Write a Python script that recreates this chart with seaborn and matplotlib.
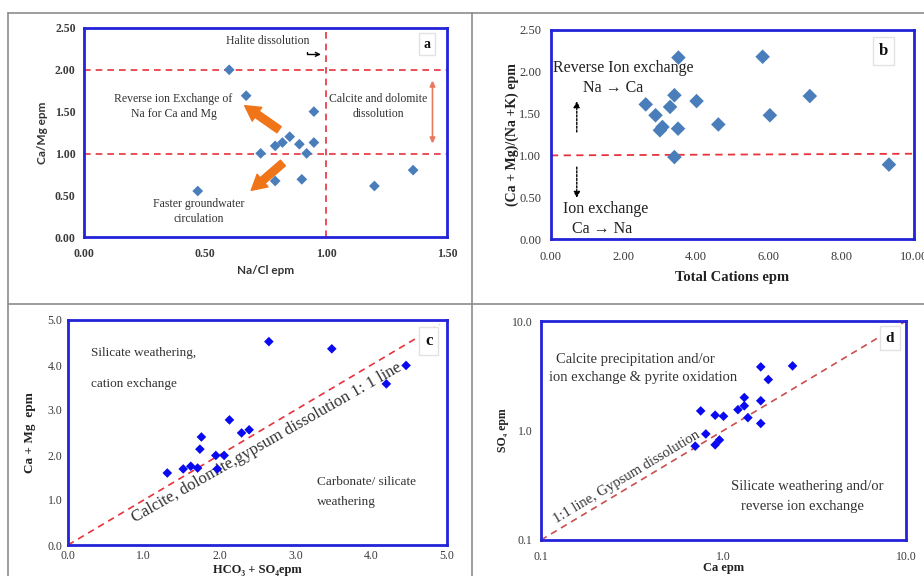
import numpy as np
import pandas as pd
import matplotlib
matplotlib.use("Agg")
import matplotlib.pyplot as plt
from matplotlib.lines import Line2D
import seaborn as sns

# ---------------- data ----------------
# Panel a: Na/Cl vs Ca/Mg
a_na_cl = [0.60, 0.67, 0.95, 0.85, 0.82, 0.79, 0.89, 0.95, 0.73, 0.92, 0.79, 0.90, 0.47, 1.20, 1.36]
a_ca_mg = [2.00, 1.69, 1.50, 1.20, 1.13, 1.09, 1.11, 1.13, 1.00, 1.00, 0.67, 0.69, 0.55, 0.61, 0.80]

# Panel b: Total cations vs (Ca+Mg)/(Na+K)
b_total = [3.51, 5.83, 2.61, 2.88, 3.28, 3.40, 4.01, 3.00, 3.07, 3.50, 4.61, 3.40, 7.13, 6.03, 9.31]
b_ratio = [2.17, 2.18, 1.61, 1.48, 1.58, 1.72, 1.65, 1.30, 1.34, 1.32, 1.37, 0.98, 1.71, 1.48, 0.89]

# Panel c: HCO3+SO4 vs Ca+Mg
c_hco3_so4 = [1.31, 1.52, 1.62, 1.71, 1.74, 1.76, 1.95, 1.97, 2.06, 2.13, 2.29, 2.39, 2.65, 3.48, 4.20, 4.46]
c_ca_mg = [1.60, 1.69, 1.75, 1.71, 2.13, 2.40, 1.99, 1.69, 1.99, 2.78, 2.49, 2.56, 4.52, 4.36, 3.58, 3.99]

# Panel d: Ca vs SO4 (log-log)
d_ca = [0.70, 0.75, 0.80, 0.90, 0.90, 0.95, 1.00, 1.20, 1.30, 1.30, 1.36, 1.60, 1.60, 1.60, 1.76, 2.39]
d_so4 = [0.72, 1.51, 0.93, 0.74, 1.38, 0.82, 1.35, 1.55, 2.00, 1.68, 1.31, 3.81, 1.87, 1.16, 2.92, 3.89]

a_xticks = [0.0, 0.5, 1.0, 1.5]
a_yticks = [0.0, 0.5, 1.0, 1.5, 2.0, 2.5]
b_xticks = [0, 2, 4, 6, 8, 10]
b_yticks = [0.0, 0.5, 1.0, 1.5, 2.0, 2.5]
c_ticks = [0, 1, 2, 3, 4, 5]
d_ticks = [0.1, 1.0, 10.0]

# ---------------- style ----------------
sns.set_style("white")
SERIF = ["Liberation Serif", "DejaVu Serif"]
SANS = ["Lato", "DejaVu Sans"]
plt.rcParams["font.family"] = SERIF

FRAME = "#2323D8"
RED = "#E8323C"
STEEL = "#4A7EBB"
BLUE = "#0A0AF0"
TICKC = "#3A3A3A"

fig = plt.figure(figsize=(9.24, 5.76), dpi=100)

# panel borders (grey grid lines)
for (x0, y0, x1, y1) in [(0.0087, 0.9774, 1.0, 0.9774), (0.0087, 0.0, 0.0087, 0.9774),
                         (0.5108, 0.0, 0.5108, 0.9774), (0.0087, 0.4722, 1.0, 0.4722)]:
    fig.add_artist(Line2D([x0, x1], [y0, y1], transform=fig.transFigure, color="#8C8C8C", lw=1.2))

W, H = 924.0, 576.0


def make_ax(left, right, top, bottom):
    return fig.add_axes([left / W, (H - bottom) / H, (right - left) / W, (bottom - top) / H])


def style_frame(ax):
    for s in ax.spines.values():
        s.set_visible(True)
        s.set_color(FRAME)
        s.set_linewidth(2.0)
    ax.grid(False)


def label_box(ax, txt, x, y, size):
    ax.text(x, y, txt, transform=ax.transAxes, ha="center", va="center", fontsize=size,
            fontweight="bold", family=SERIF, color="#111111",
            bbox=dict(boxstyle="square,pad=0.35", fc="white", ec="#E2E2E2", lw=1.0), zorder=5)


# ================= Panel a =================
axa = make_ax(84, 447, 28, 237)
dfa = pd.DataFrame({"x": a_na_cl, "y": a_ca_mg})
sns.scatterplot(data=dfa, x="x", y="y", ax=axa, marker="D", s=30, color=STEEL,
                edgecolor="none", zorder=4)
axa.set_xlim(0, 1.5)
axa.set_ylim(0, 2.5)
axa.set_xticks(a_xticks)
axa.set_yticks(a_yticks)
axa.set_xticklabels([f"{v:.2f}" for v in a_xticks])
axa.set_yticklabels([f"{v:.2f}" for v in a_yticks])
axa.tick_params(length=0, labelsize=8.5, colors=TICKC, pad=6)
axa.tick_params(axis="x", pad=8)
for t in axa.get_xticklabels() + axa.get_yticklabels():
    t.set_fontweight("bold")
axa.set_xlabel("Na/Cl epm", family=SANS, fontweight="bold", fontsize=8.5, color="#333333")
axa.set_ylabel("Ca/Mg epm", family=SANS, fontweight="bold", fontsize=8.5, color="#333333")
axa.xaxis.set_label_coords(0.5, -0.158)
axa.xaxis.label.set_verticalalignment("center")
axa.yaxis.set_label_coords((42 - 84) / 363, 0.5)
axa.yaxis.label.set_verticalalignment("center")
style_frame(axa)
axa.axhline(2.0, color=RED, ls=(0, (4, 3)), lw=1.2, zorder=2)
axa.axhline(0.99, color=RED, ls=(0, (4, 3)), lw=1.2, zorder=2)
axa.axvline(1.0, color=RED, ls=(0, (4, 3)), lw=1.2, zorder=2)
TXT = "#333333"
axa.text(0.76, 2.35, "Halite dissolution", ha="center", va="center", fontsize=8.5, color=TXT)
axa.annotate("", xy=(0.99, 2.185), xytext=(0.922, 2.25),
             arrowprops=dict(arrowstyle="->", color="black", lw=1.0,
                             connectionstyle="angle,angleA=90,angleB=0,rad=0", mutation_scale=7))
axa.text(0.37, 1.56, "Reverse ion Exchange of\nNa for Ca and Mg", ha="center", va="center",
         fontsize=8.5, color=TXT, linespacing=1.35)
axa.text(0.475, 0.30, "Faster groundwater\ncirculation", ha="center", va="center",
         fontsize=8.5, color=TXT, linespacing=1.35)
axa.text(1.215, 1.56, "Calcite and dolomite\ndissolution", ha="center", va="center",
         fontsize=8.5, color=TXT, linespacing=1.35)
ORANGE = "#F07418"
for tail, tip in [((0.806, 1.284), (0.664, 1.571)), ((0.822, 0.885), (0.691, 0.558))]:
    axa.annotate("", xy=tip, xytext=tail,
                 arrowprops=dict(arrowstyle="simple,head_width=1.0,head_length=0.9,tail_width=0.45",
                                 color=ORANGE, mutation_scale=12, shrinkA=0, shrinkB=0))
axa.annotate("", xy=(1.44, 1.87), xytext=(1.44, 1.12),
             arrowprops=dict(arrowstyle="<|-|>", color="#E8785E", lw=1.2, mutation_scale=8,
                             shrinkA=0, shrinkB=0))
label_box(axa, "a", 0.945, 0.923, 10)

# ================= Panel b =================
axb = make_ax(551, 914, 30, 239)
dfb = pd.DataFrame({"x": b_total, "y": b_ratio})
sns.scatterplot(data=dfb, x="x", y="y", ax=axb, marker="D", s=55, color=STEEL,
                edgecolor="none", zorder=4)
axb.set_xlim(0, 10)
axb.set_ylim(0, 2.5)
axb.set_xticks(b_xticks)
axb.set_yticks(b_yticks)
axb.set_xticklabels([f"{v:.2f}" for v in b_xticks])
axb.set_yticklabels([f"{v:.2f}" for v in b_yticks])
axb.tick_params(length=0, labelsize=9, colors=TICKC, pad=7)
axb.tick_params(axis="x", pad=9)
axb.set_xlabel("Total Cations epm", fontweight="bold", fontsize=10.5, color="#222222")
axb.set_ylabel("(Ca + Mg)/(Na +K) epm", fontweight="bold", fontsize=10, color="#222222")
axb.xaxis.set_label_coords(0.5, (239 - 277) / 209)
axb.xaxis.label.set_verticalalignment("center")
axb.yaxis.set_label_coords((512 - 551) / 363, 0.5)
axb.yaxis.label.set_verticalalignment("center")
style_frame(axb)
axb.plot([0, 10], [1.0, 1.02], color=RED, ls=(0, (4, 3)), lw=1.3, zorder=2)
axb.text(2.0, 2.05, "Reverse Ion exchange", ha="center", va="center", fontsize=11.5, color="#222222")
axb.text(1.72, 1.81, "Na \u2192 Ca", ha="center", va="center", fontsize=11.5, color="#222222")
axb.text(1.5, 0.36, "Ion exchange", ha="center", va="center", fontsize=11.5, color="#222222")
axb.text(1.42, 0.12, "Ca \u2192 Na", ha="center", va="center", fontsize=11.5, color="#222222")
axb.annotate("", xy=(0.71, 1.65), xytext=(0.71, 1.28),
             arrowprops=dict(arrowstyle="-|>", color="black", lw=1.0, ls=(0, (1.5, 1.2)),
                             mutation_scale=9, shrinkA=0, shrinkB=0))
axb.annotate("", xy=(0.71, 0.49), xytext=(0.71, 0.86),
             arrowprops=dict(arrowstyle="-|>", color="black", lw=1.0, ls=(0, (1.5, 1.2)),
                             mutation_scale=9, shrinkA=0, shrinkB=0))
label_box(axb, "b", 0.917, 0.90, 12)

# ================= Panel c =================
axc = make_ax(68, 447, 320, 545)
dfc = pd.DataFrame({"x": c_hco3_so4, "y": c_ca_mg})
sns.scatterplot(data=dfc, x="x", y="y", ax=axc, marker="D", s=24, color=BLUE,
                edgecolor="none", zorder=4)
axc.set_xlim(0, 5)
axc.set_ylim(0, 5)
axc.set_xticks(c_ticks)
axc.set_yticks(c_ticks)
axc.set_xticklabels([f"{v:.1f}" for v in c_ticks])
axc.set_yticklabels([f"{v:.1f}" for v in c_ticks])
axc.tick_params(length=0, labelsize=8.5, colors=TICKC, pad=4)
axc.tick_params(axis="x", pad=3.5)
axc.set_xlabel("HCO\u2083 + SO\u2084epm", fontweight="bold", fontsize=9, color="#222222")
axc.set_ylabel("Ca + Mg  epm", fontweight="bold", fontsize=9.5, color="#222222")
axc.xaxis.set_label_coords(0.5, (545 - 570) / 225)
axc.xaxis.label.set_verticalalignment("center")
axc.yaxis.set_label_coords((30 - 68) / 379, 0.5)
axc.yaxis.label.set_verticalalignment("center")
style_frame(axc)
axc.plot([0, 4.9], [0, 4.9], color=RED, ls=(0, (4, 3)), lw=1.2, zorder=2)
p0 = axc.transData.transform((0, 0))
p1 = axc.transData.transform((5, 5))
ang_c = np.degrees(np.arctan2(p1[1] - p0[1], p1[0] - p0[0]))
axc.text(2.62, 2.27, "Calcite, dolomite,gypsum dissolution 1: 1 line", rotation=ang_c - 1,
         rotation_mode="anchor", ha="center", va="center", fontsize=12, color="#333333", zorder=3)
axc.text(0.30, 4.26, "Silicate weathering,", ha="left", va="center", fontsize=9.5, color="#333333")
axc.text(0.30, 3.57, "cation exchange", ha="left", va="center", fontsize=9.5, color="#333333")
axc.text(3.28, 1.40, "Carbonate/ silicate", ha="left", va="center", fontsize=9.5, color="#333333")
axc.text(3.28, 0.95, "weathering", ha="left", va="center", fontsize=9.5, color="#333333")
label_box(axc, "c", 0.952, 0.907, 12)

# ================= Panel d =================
axd = make_ax(541, 906, 321, 540)
dfd = pd.DataFrame({"x": d_ca, "y": d_so4})
sns.scatterplot(data=dfd, x="x", y="y", ax=axd, marker="D", s=24, color=BLUE,
                edgecolor="none", zorder=4)
axd.set_xscale("log")
axd.set_yscale("log")
axd.set_xlim(0.1, 10)
axd.set_ylim(0.1, 10)
axd.set_xticks(d_ticks)
axd.set_yticks(d_ticks)
axd.minorticks_off()
axd.set_xticklabels([f"{v:.1f}" for v in d_ticks])
axd.set_yticklabels([f"{v:.1f}" for v in d_ticks])
axd.tick_params(length=0, labelsize=8.5, colors=TICKC, pad=6)
axd.tick_params(axis="x", pad=8)
axd.set_xlabel("Ca epm", fontweight="bold", fontsize=9, color="#222222")
axd.set_ylabel("SO\u2084 epm", fontweight="bold", fontsize=8.5, color="#222222")
axd.xaxis.set_label_coords(0.5, (540 - 568) / 219)
axd.xaxis.label.set_verticalalignment("center")
axd.yaxis.set_label_coords((503 - 541) / 365, 0.5)
axd.yaxis.label.set_verticalalignment("center")
style_frame(axd)
axd.plot([0.1, 10], [0.1, 10], color="#C8504D", ls=(0, (4, 3)), lw=1.2, zorder=2)
q0 = axd.transData.transform((0.1, 0.1))
q1 = axd.transData.transform((10, 10))
ang_d = np.degrees(np.arctan2(q1[1] - q0[1], q1[0] - q0[0]))
axd.text(0.294, 0.378, "1:1 line, Gypsum dissolution", rotation=ang_d, rotation_mode="anchor",
         ha="center", va="center", fontsize=10.5, color="#333333", zorder=3)
axd.text(0.121, 4.47, "Calcite precipitation and/or", ha="left", va="center", fontsize=10.5,
         color="#333333")
axd.text(0.111, 3.02, "ion exchange & pyrite oxidation", ha="left", va="center", fontsize=10.5,
         color="#333333")
axd.text(2.88, 0.311, "Silicate weathering and/or", ha="center", va="center", fontsize=10.5,
         color="#333333")
axd.text(2.70, 0.204, "reverse ion exchange", ha="center", va="center", fontsize=10.5,
         color="#333333")
label_box(axd, "d", 0.956, 0.922, 11)

fig.savefig("out.png", dpi=100)
